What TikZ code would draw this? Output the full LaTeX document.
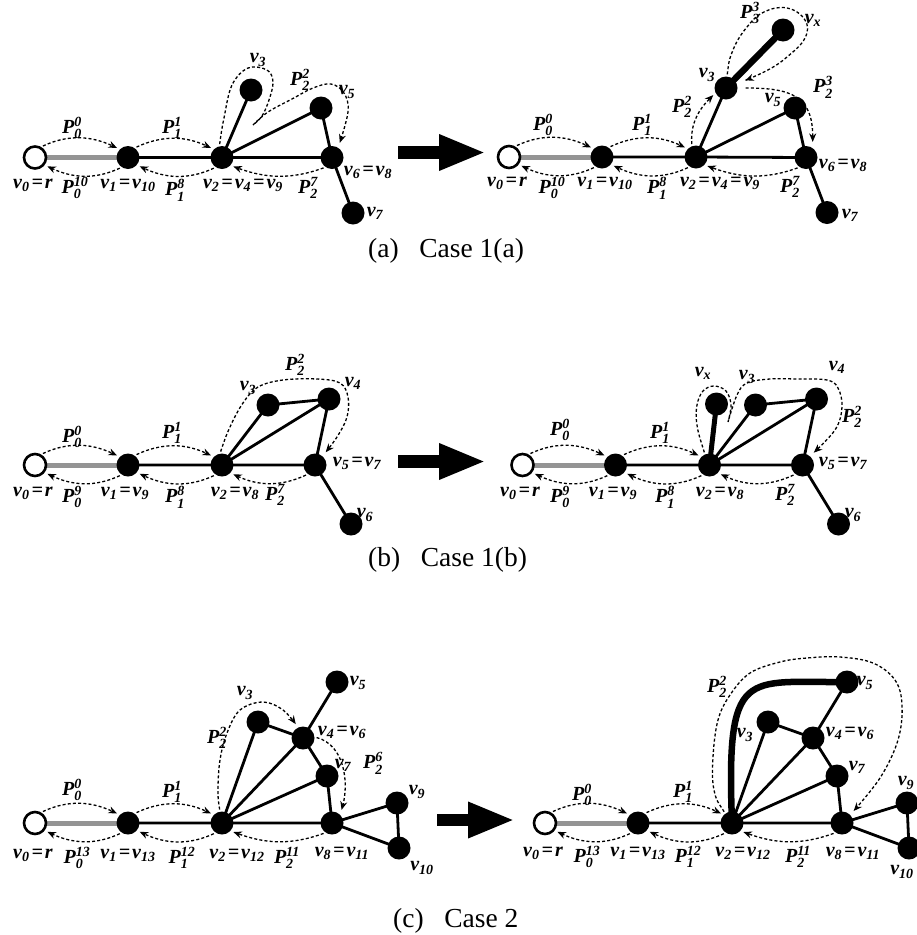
\documentclass[tikz,border=0pt]{standalone}
\usepackage{amsmath}
\usepackage{fontspec}
\setmainfont{Liberation Serif}
\usetikzlibrary{arrows.meta}
\usetikzlibrary{backgrounds}

\newcommand{\vl}[1]{\ensuremath{\text{v}_{\text{#1}}}}
\newcommand{\pl}[2]{\ensuremath{\text{P}^{\text{#2}}_{\text{#1}}}}
\newcommand{\eq}{\hspace{0.1em}=\hspace{0.1em}}

\begin{document}
\begin{tikzpicture}[x=1pt,y=1pt,
        vtx/.style={circle,fill=black,inner sep=0pt,minimum size=23pt},
        root/.style={circle,draw=black,line width=2.6pt,fill=white,inner sep=0pt,minimum size=22pt},
        gedge/.style={line width=2.8pt},
        redge/.style={line width=5pt,draw=black!42},
        newedge/.style={line width=6.5pt},
        tour/.style={line width=1.3pt,dash pattern=on 3pt off 2.2pt,shorten <=2pt,shorten >=3pt,
            -{Stealth[length=8.5pt,width=7pt]}},
        lab/.style={font=\fontsize{20}{22}\selectfont\bfseries\itshape,inner sep=0pt},
        capt/.style={font=\fontsize{27.5}{31}\selectfont,inner sep=0pt,anchor=base west},
        bigarrow/.style={line width=12.5pt,-{Triangle[length=47pt,width=33pt]}}]%
        \useasboundingbox (0,0) rectangle (917,-935);
        \clip (0,0) rectangle (917,-935);

        % (a) Case 1(a)
        \node[root] (aL0) at (35,-157.5) {};
        \node[vtx] (aL1) at (128,-157.5) {};
        \node[vtx] (aL2) at (222,-157.5) {};
        \node[vtx] (aL3) at (251,-90) {};
        \node[vtx] (aL5) at (321,-108) {};
        \node[vtx] (aL6) at (332,-157.5) {};
        \node[vtx] (aL7) at (353,-213) {};
        \begin{scope}[on background layer]
            \draw[redge] (aL0.center) -- (aL1.center);
            \draw[gedge] (aL1.center) -- (aL2.center) -- (aL6.center) -- (aL7.center)
                (aL3.center) -- (aL2.center) -- (aL5.center) -- (aL6.center);
        \end{scope}
        \draw[tour] (aL0.60) to[out=25,in=155] (aL1.135);
        \draw[tour] (aL1.55) to[out=25,in=155] (aL2.135);
        \draw[tour,shorten >=5pt] plot[smooth,tension=0.6] coordinates {(aL2.103) (224,-118) (232,-85) (248,-68) (267,-70) (273,-82) (269,-100) (262,-116) (253,-125)}
            -- plot[smooth,tension=0.6] coordinates {(253,-125) (268,-112) (292,-99) (313,-88) (331,-84) (344,-93) (348,-112) (aL6.58)};
        \draw[tour] (aL1.-123) to[out=-155,in=-25] (aL0.-38);
        \draw[tour] (aL2.-123) to[out=-155,in=-25] (aL1.-40);
        \draw[tour] (aL6.-124) to[out=-160,in=-20] (aL2.-43);
        \node[lab] (aLp00) at (72,-128) {\pl{0}{0}};
        \node[lab] (aLp11) at (172,-128) {\pl{1}{1}};
        \node[lab] (aLp22) at (300,-80) {\pl{2}{2}};
        \node[lab] (aLv3) at (258,-60) {\vl{3}};
        \node[lab] (aLv5) at (347,-92) {\vl{5}};
        \node[lab] (aLv0) at (33,-185) {\vl{0}\eq r};
        \node[lab] (aLp010) at (75,-188) {\pl{0}{10}};
        \node[lab] (aLv1) at (128,-185) {\vl{1}\eq\vl{10}};
        \node[lab] (aLp18) at (175,-190) {\pl{1}{8}};
        \node[lab] (aLv2) at (243,-185) {\vl{2}\eq\vl{4}\eq\vl{9}};
        \node[lab] (aLp27) at (308,-188) {\pl{2}{7}};
        \node[lab] (aLv6) at (368,-172) {\vl{6}\eq\vl{8}};
        \node[lab] (aLv7) at (375,-213) {\vl{7}};

        \coordinate (aArrS) at (398,-152.5);
        \coordinate (aArrE) at (486,-152.5);
        \draw[bigarrow] (aArrS) -- (aArrE);

        \node[root] (aR0) at (509,-157) {};
        \node[vtx] (aR1) at (602,-157) {};
        \node[vtx] (aR2) at (696,-157) {};
        \node[vtx] (aR3) at (726,-88) {};
        \node[vtx] (aRx) at (783,-30) {};
        \node[vtx] (aR5) at (795,-108) {};
        \node[vtx] (aR6) at (806,-157.5) {};
        \node[vtx] (aR7) at (827,-212.5) {};
        \begin{scope}[on background layer]
            \draw[redge] (aR0.center) -- (aR1.center);
            \draw[gedge] (aR1.center) -- (aR2.center) -- (aR6.center) -- (aR7.center)
                (aR3.center) -- (aR2.center) -- (aR5.center) -- (aR6.center);
            \draw[newedge] (aR3.center) -- (aRx.center);
        \end{scope}
        \draw[tour] (aR0.60) to[out=25,in=155] (aR1.135);
        \draw[tour] (aR1.55) to[out=25,in=155] (aR2.135);
        \draw[tour] (aR2.110) to[out=95,in=-135] (aR3.205);
        \draw[tour,shorten >=9pt] plot[smooth,tension=0.7] coordinates {(aR3.85) (733,-50) (747,-27) (764,-12) (787,-8) (805,-20) (805,-38) (787,-57) (766,-71) (aR3.22)};
        \draw[tour,shorten <=8pt,shorten >=6pt] (aR3.0) to[out=0,in=90,looseness=1.4] (aR6.55);
        \draw[tour] (aR1.-123) to[out=-155,in=-25] (aR0.-38);
        \draw[tour] (aR2.-123) to[out=-155,in=-25] (aR1.-40);
        \draw[tour] (aR6.-124) to[out=-160,in=-20] (aR2.-43);
        \node[lab] (aRp33) at (750,-13) {\pl{3}{3}};
        \node[lab] (aRvx) at (813,-20) {\vl{x}};
        \node[lab] (aRv3) at (707,-75) {\vl{3}};
        \node[lab] (aRp23) at (823,-87) {\pl{2}{3}};
        \node[lab] (aRv5) at (773,-100) {\vl{5}};
        \node[lab] (aRp22) at (682,-107) {\pl{2}{2}};
        \node[lab] (aRp00) at (543,-125) {\pl{0}{0}};
        \node[lab] (aRp11) at (642,-125) {\pl{1}{1}};
        \node[lab] (aRv0) at (507,-183) {\vl{0}\eq r};
        \node[lab] (aRp010) at (552,-188) {\pl{0}{10}};
        \node[lab] (aRv1) at (605,-183) {\vl{1}\eq\vl{10}};
        \node[lab] (aRp18) at (657,-188) {\pl{1}{8}};
        \node[lab] (aRv2) at (720,-183) {\vl{2}\eq\vl{4}\eq\vl{9}};
        \node[lab] (aRp27) at (790,-187) {\pl{2}{7}};
        \node[lab] (aRv6) at (843,-165) {\vl{6}\eq\vl{8}};
        \node[lab] (aRv7) at (850,-215) {\vl{7}};
        \node[capt] (capA) at (368,-257) {(a)\hspace{0.75em}Case 1(a)};

        % (b) Case 1(b)
        \node[root] (bL0) at (35,-465) {};
        \node[vtx] (bL1) at (128,-465) {};
        \node[vtx] (bL2) at (222,-465) {};
        \node[vtx] (bL3) at (268,-405) {};
        \node[vtx] (bL4) at (329,-399) {};
        \node[vtx] (bL5) at (315,-465) {};
        \node[vtx] (bL6) at (351,-524) {};
        \begin{scope}[on background layer]
            \draw[redge] (bL0.center) -- (bL1.center);
            \draw[gedge] (bL1.center) -- (bL2.center) -- (bL5.center) -- (bL6.center)
                (bL2.center) -- (bL3.center) -- (bL4.center) -- (bL5.center) (bL2.center) -- (bL4.center);
        \end{scope}
        \draw[tour] (bL0.60) to[out=25,in=155] (bL1.135);
        \draw[tour] (bL1.55) to[out=25,in=155] (bL2.135);
        \draw[tour,shorten >=5pt] plot[smooth,tension=0.6] coordinates {(bL2.100) (230,-427) (243,-403) (258,-387) (283,-380) (317,-379) (340,-383) (348,-397) (347,-417) (337,-437) (bL5.50)};
        \draw[tour] (bL1.-123) to[out=-155,in=-25] (bL0.-38);
        \draw[tour] (bL2.-123) to[out=-155,in=-25] (bL1.-40);
        \draw[tour] (bL5.-128) to[out=-155,in=-25] (bL2.-43);
        \node[lab] (bLp00) at (72,-437) {\pl{0}{0}};
        \node[lab] (bLp11) at (172,-433) {\pl{1}{1}};
        \node[lab] (bLv3) at (248,-388) {\vl{3}};
        \node[lab] (bLp22) at (295,-365) {\pl{2}{2}};
        \node[lab] (bLv4) at (353,-383) {\vl{4}};
        \node[lab] (bLv5) at (357,-463) {\vl{5}\eq\vl{7}};
        \node[lab] (bLv0) at (33,-493) {\vl{0}\eq r};
        \node[lab] (bLp09) at (72,-497) {\pl{0}{9}};
        \node[lab] (bLv1) at (125,-493) {\vl{1}\eq\vl{9}};
        \node[lab] (bLp18) at (175,-497) {\pl{1}{8}};
        \node[lab] (bLv2) at (235,-493) {\vl{2}\eq\vl{8}};
        \node[lab] (bLp27) at (275,-495) {\pl{2}{7}};
        \node[lab] (bLv6) at (365,-515) {\vl{6}};

        \coordinate (bArrS) at (398,-461.5);
        \coordinate (bArrE) at (486,-461.5);
        \draw[bigarrow] (bArrS) -- (bArrE);

        \node[root] (bR0) at (522.5,-465) {};
        \node[vtx] (bR1) at (615.5,-465) {};
        \node[vtx] (bR2) at (709.5,-465) {};
        \node[vtx] (bRx) at (716.5,-404) {};
        \node[vtx] (bR3) at (755.5,-405) {};
        \node[vtx] (bR4) at (816.5,-399) {};
        \node[vtx] (bR5) at (802.5,-465) {};
        \node[vtx] (bR6) at (838.5,-524) {};
        \begin{scope}[on background layer]
            \draw[redge] (bR0.center) -- (bR1.center);
            \draw[gedge] (bR1.center) -- (bR2.center) -- (bR5.center) -- (bR6.center)
                (bR2.center) -- (bR3.center) -- (bR4.center) -- (bR5.center) (bR2.center) -- (bR4.center);
            \draw[line width=5pt] (bR2.center) -- (bRx.center);
        \end{scope}
        \draw[tour] (bR0.60) to[out=25,in=155] (bR1.135);
        \draw[tour] (bR1.55) to[out=25,in=155] (bR2.135);
        \draw[tour,shorten >=5pt] plot[smooth,tension=0.6] coordinates {(bR2.113) (697,-425) (697,-405) (703,-391) (714,-386) (726,-391) (731,-405) (728,-422)}
            -- plot[smooth,tension=0.6] coordinates {(728,-422) (737,-395) (747,-383) (770,-379) (797,-379) (827,-380) (838,-388) (842,-407) (835,-430) (bR5.50)};
        \draw[tour] (bR1.-123) to[out=-155,in=-25] (bR0.-38);
        \draw[tour] (bR2.-123) to[out=-155,in=-25] (bR1.-40);
        \draw[tour] (bR5.-128) to[out=-155,in=-25] (bR2.-43);
        \node[lab] (bRvx) at (703,-373) {\vl{x}};
        \node[lab] (bRv3) at (747,-377) {\vl{3}};
        \node[lab] (bRv4) at (837,-367) {\vl{4}};
        \node[lab] (bRp22) at (852,-417) {\pl{2}{2}};
        \node[lab] (bRp00) at (560,-430) {\pl{0}{0}};
        \node[lab] (bRp11) at (660,-433) {\pl{1}{1}};
        \node[lab] (bRv5) at (843,-463) {\vl{5}\eq\vl{7}};
        \node[lab] (bRv0) at (520,-493) {\vl{0}\eq r};
        \node[lab] (bRp09) at (560,-497) {\pl{0}{9}};
        \node[lab] (bRv1) at (613,-493) {\vl{1}\eq\vl{9}};
        \node[lab] (bRp18) at (665,-497) {\pl{1}{8}};
        \node[lab] (bRv2) at (720,-493) {\vl{2}\eq\vl{8}};
        \node[lab] (bRp27) at (785,-495) {\pl{2}{7}};
        \node[lab] (bRv6) at (853,-515) {\vl{6}};
        \node[capt] (capB) at (368,-566) {(b)\hspace{0.75em}Case 1(b)};

        % (c) Case 2
        \node[root] (cL0) at (35,-823) {};
        \node[vtx] (cL1) at (128,-823) {};
        \node[vtx] (cL2) at (222,-823) {};
        \node[vtx] (cL3) at (258,-722) {};
        \node[vtx] (cL4) at (303,-738) {};
        \node[vtx] (cL5) at (337,-682) {};
        \node[vtx] (cL7) at (327,-776) {};
        \node[vtx] (cL8) at (332,-823) {};
        \node[vtx] (cL9) at (397,-803) {};
        \node[vtx] (cL10) at (399,-848) {};
        \begin{scope}[on background layer]
            \draw[redge] (cL0.center) -- (cL1.center);
            \draw[gedge] (cL1.center) -- (cL2.center) -- (cL8.center) -- (cL9.center) -- (cL10.center) -- (cL8.center)
                (cL2.center) -- (cL3.center) -- (cL4.center) -- (cL5.center)
                (cL2.center) -- (cL4.center) -- (cL7.center) -- (cL8.center) (cL2.center) -- (cL7.center);
        \end{scope}
        \draw[tour] (cL0.60) to[out=25,in=155] (cL1.135);
        \draw[tour] (cL1.55) to[out=25,in=155] (cL2.135);
        \draw[tour,shorten >=4pt] plot[smooth,tension=0.6] coordinates {(cL2.100) (218,-790) (220,-760) (227,-733) (240,-710) (263,-702) (283,-710) (cL4.115)};
        \draw[tour,shorten >=5pt] (cL4.5) to[out=-15,in=75] (cL8.45);
        \draw[tour] (cL1.-123) to[out=-155,in=-25] (cL0.-38);
        \draw[tour] (cL2.-123) to[out=-155,in=-25] (cL1.-40);
        \draw[tour] (cL8.-124) to[out=-160,in=-20] (cL2.-43);
        \node[lab] (cLv5) at (358,-683) {\vl{5}};
        \node[lab] (cLv3) at (245,-693) {\vl{3}};
        \node[lab] (cLv4) at (342,-732) {\vl{4}\eq\vl{6}};
        \node[lab] (cLp22) at (217,-738) {\pl{2}{2}};
        \node[lab] (cLp26) at (373,-763) {\pl{2}{6}};
        \node[lab] (cLv7) at (343,-765) {\vl{7}};
        \node[lab] (cLv9) at (417,-792) {\vl{9}};
        \node[lab] (cLp00) at (72,-790) {\pl{0}{0}};
        \node[lab] (cLp11) at (172,-792) {\pl{1}{1}};
        \node[lab] (cLv0) at (33,-855) {\vl{0}\eq r};
        \node[lab] (cLp013) at (77,-858) {\pl{0}{13}};
        \node[lab] (cLv1) at (128,-855) {\vl{1}\eq\vl{13}};
        \node[lab] (cLp112) at (182,-858) {\pl{1}{12}};
        \node[lab] (cLv2) at (237,-855) {\vl{2}\eq\vl{12}};
        \node[lab] (cLp211) at (287,-858) {\pl{2}{11}};
        \node[lab] (cLv8) at (342,-853) {\vl{8}\eq\vl{11}};
        \node[lab] (cLv10) at (422,-868) {\vl{10}};

        \coordinate (cArrS) at (437,-820);
        \coordinate (cArrE) at (515,-820);
        \draw[bigarrow] (cArrS) -- (cArrE);

        \node[root] (cR0) at (545,-823) {};
        \node[vtx] (cR1) at (638,-823) {};
        \node[vtx] (cR2) at (732,-823) {};
        \node[vtx] (cR3) at (768,-722) {};
        \node[vtx] (cR4) at (813,-738) {};
        \node[vtx] (cR5) at (847,-682) {};
        \node[vtx] (cR7) at (837,-776) {};
        \node[vtx] (cR8) at (842,-823) {};
        \node[vtx] (cR9) at (907,-803) {};
        \node[vtx] (cR10) at (909,-848) {};
        \begin{scope}[on background layer]
            \draw[redge] (cR0.center) -- (cR1.center);
            \draw[gedge] (cR1.center) -- (cR2.center) -- (cR8.center) -- (cR9.center) -- (cR10.center) -- (cR8.center)
                (cR2.center) -- (cR3.center) -- (cR4.center) -- (cR5.center)
                (cR2.center) -- (cR4.center) -- (cR7.center) -- (cR8.center) (cR2.center) -- (cR7.center);
            \draw[newedge] (cR2.center) .. controls (726,-665) and (745,-683) .. (cR5.center);
        \end{scope}
        \draw[tour] (cR0.60) to[out=25,in=155] (cR1.135);
        \draw[tour] (cR1.55) to[out=25,in=155] (cR2.135);
        \draw[tour,shorten >=5pt] plot[smooth,tension=0.6] coordinates {(cR2.125) (714,-790) (713,-757) (718,-720) (730,-695) (750,-673) (780,-662) (807,-658) (840,-657) (873,-663) (895,-680) (902,-705) (898,-740) (880,-778) (cR8.45)};
        \draw[tour] (cR1.-123) to[out=-155,in=-25] (cR0.-38);
        \draw[tour] (cR2.-123) to[out=-155,in=-25] (cR1.-40);
        \draw[tour] (cR8.-124) to[out=-160,in=-20] (cR2.-43);
        \node[lab] (cRp22) at (717,-687) {\pl{2}{2}};
        \node[lab] (cRv5) at (865,-683) {\vl{5}};
        \node[lab] (cRv3) at (745,-735) {\vl{3}};
        \node[lab] (cRv4) at (850,-733) {\vl{4}\eq\vl{6}};
        \node[lab] (cRv7) at (857,-767) {\vl{7}};
        \node[lab] (cRv9) at (906,-783) {\vl{9}};
        \node[lab] (cRp00) at (582,-795) {\pl{0}{0}};
        \node[lab] (cRp11) at (683,-792) {\pl{1}{1}};
        \node[lab] (cRv0) at (543,-853) {\vl{0}\eq r};
        \node[lab] (cRp013) at (587,-857) {\pl{0}{13}};
        \node[lab] (cRv1) at (638,-853) {\vl{1}\eq\vl{13}};
        \node[lab] (cRp112) at (688,-857) {\pl{1}{12}};
        \node[lab] (cRv2) at (743,-853) {\vl{2}\eq\vl{12}};
        \node[lab] (cRp211) at (798,-857) {\pl{2}{11}};
        \node[lab] (cRv8) at (853,-853) {\vl{8}\eq\vl{11}};
        \node[lab] (cRv10) at (902,-872) {\vl{10}};
        \node[capt] (capC) at (393,-927) {(c)\hspace{0.75em}Case 2};
\end{tikzpicture}
\end{document}
